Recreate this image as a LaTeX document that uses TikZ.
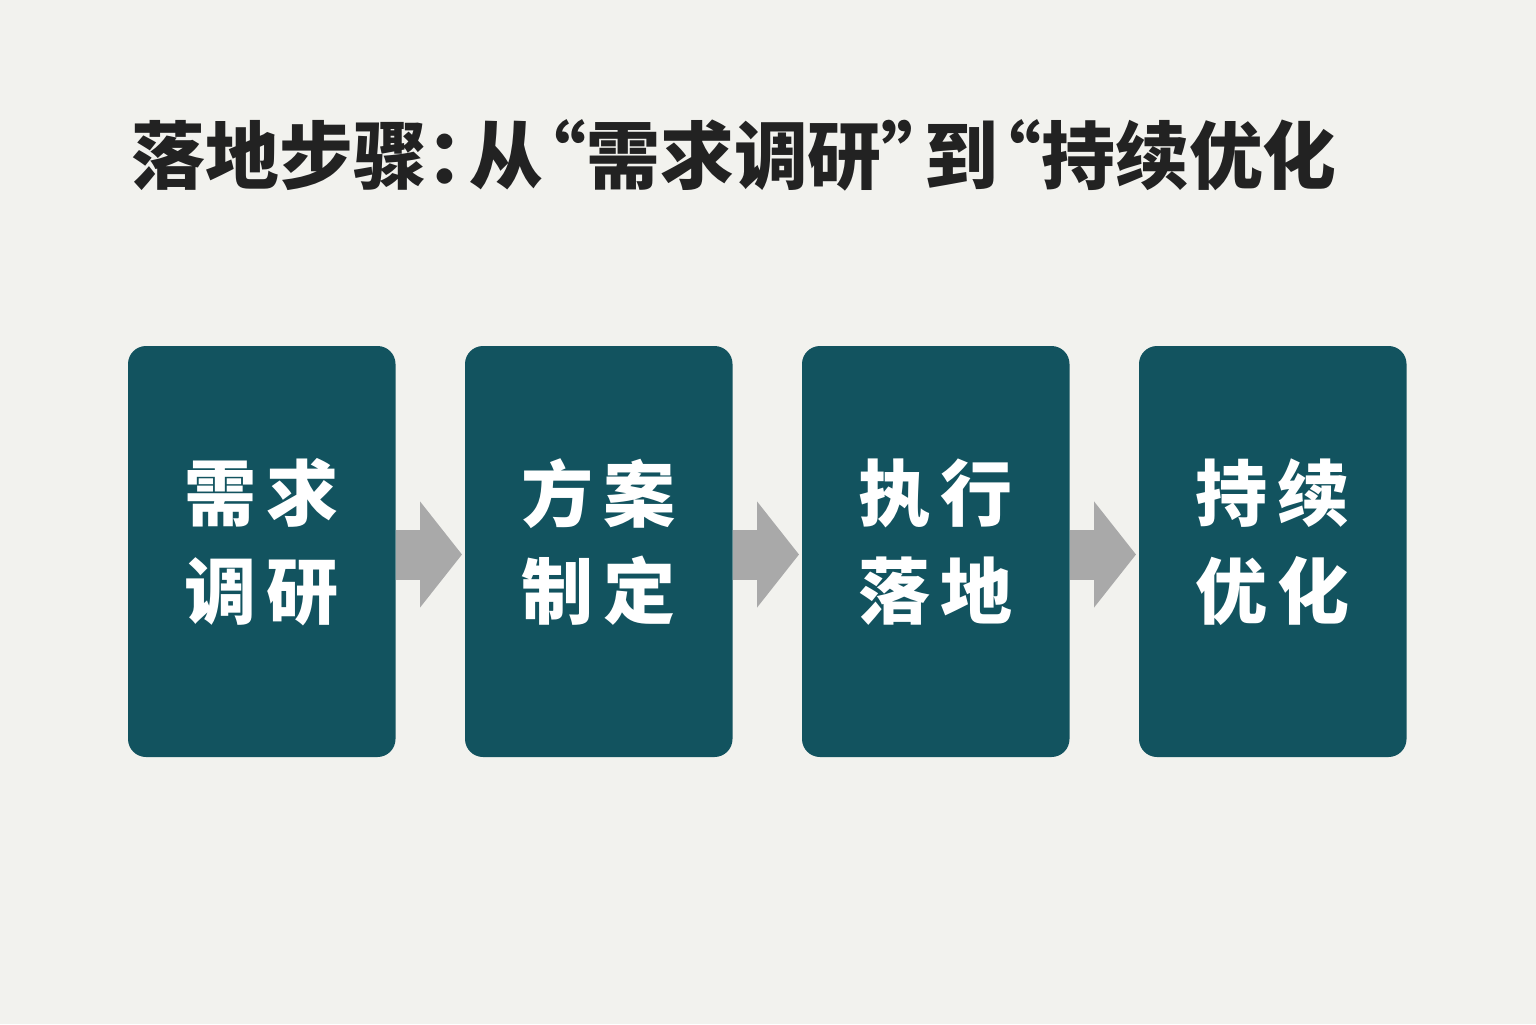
\documentclass[tikz,border=0pt]{standalone}
\usepackage{fontspec}
\setmainfont{Noto Sans CJK SC}
\usetikzlibrary{positioning,arrows.meta}

\definecolor{bgpaper}{HTML}{F2F2EE}
\definecolor{stepteal}{HTML}{12535F}
\definecolor{arrowgray}{HTML}{A9A9A9}
\definecolor{titleink}{HTML}{222222}

% two lines of two characters, raised a little
\newcommand{\steplabel}[4]{#1\hspace{0.1cm}#2\\#3\hspace{0.1cm}#4\rule[-0.26cm]{0pt}{0pt}}
\newcommand{\pgap}{\hspace{0.06cm}}

\tikzset{
	stepbox/.style={fill=stepteal,rounded corners=0.18cm,minimum width=2.675cm,minimum height=4.11cm,
		inner sep=0pt,outer sep=0pt,align=center,text=white,font=\fontsize{20.5pt}{27.8pt}\selectfont\bfseries},
	steparrow/.style={draw=arrowgray,line width=0.5cm,-{Triangle[length=0.42cm,width=1.04cm]},shorten >=0.03cm}
}

\begin{document}
\begin{tikzpicture}
	%BACKGROUND
	\fill[bgpaper] (0,0) rectangle (15.36,10.24);
	\useasboundingbox (0,0) rectangle (15.36,10.24);
	
	%TITLE
	\node[anchor=west,inner sep=0pt,text=titleink,font=\fontsize{21pt}{24pt}\selectfont\bfseries\addfontfeature{RawFeature=+halt}] (title) at (1.31,8.69) {落地步骤：\pgap 从\pgap“需求调研”\pgap 到\pgap“持续优化};
	
	%BOXES
	\node[stepbox] (s1) at (2.6175,4.725) {\steplabel{需}{求}{调}{研}};
	\foreach \a/\b/\c/\d [count=\i from 2] in {方/案/制/定,执/行/落/地,持/续/优/化}{
		\pgfmathtruncatemacro{\p}{\i-1}
		\node[stepbox,right=0.695cm of s\p] (s\i) {\steplabel{\a}{\b}{\c}{\d}};
	}
	
	%ARROWS
	\foreach \a/\b in {s1/s2,s2/s3,s3/s4}
	\draw[steparrow] ([yshift=-0.03cm]\a.east)--([yshift=-0.03cm]\b.west);
\end{tikzpicture}
\end{document}
